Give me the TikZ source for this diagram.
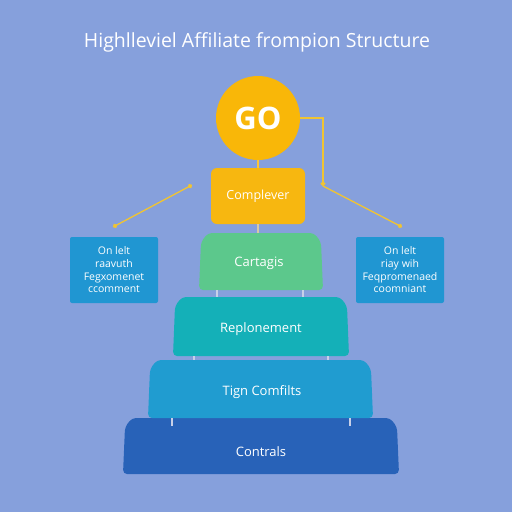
\documentclass[tikz,border=0pt]{standalone}
\usepackage{fontspec}
\setmainfont{Open Sans}
\usetikzlibrary{arrows.meta}
\definecolor{bg}{RGB}{134,160,220}
\definecolor{goc}{RGB}{249,183,8}
\definecolor{compc}{RGB}{247,183,16}
\definecolor{cartc}{RGB}{92,200,140}
\definecolor{replc}{RGB}{20,176,184}
\definecolor{tignc}{RGB}{32,156,208}
\definecolor{contc}{RGB}{40,98,184}
\definecolor{sidec}{RGB}{32,150,210}
\definecolor{linky}{RGB}{240,196,50}
\definecolor{tierline}{RGB}{200,208,232}
% #1 colour, #2 left x, #3 right x, #4 top y, #5 bottom y
\newcommand\tierfill[5]{\fill[#1, rounded corners=4pt] (#2,#5) -- (#2+2,#4+9) -- (#2+9,#4) -- (#3-9,#4) -- (#3-2,#4+9) -- (#3,#5) -- cycle;}
\tikzset{
  tiertext/.style={text=white, font=\fontsize{13}{15}\selectfont, inner sep=0pt},
  sidebox/.style={fill=sidec, rounded corners=2pt, minimum width=88pt, minimum height=66pt, text=white, align=center, font=\fontsize{10.5}{12.7}\selectfont, inner sep=0pt},
  ylink/.style={draw=linky, line width=1.3pt},
  tlink/.style={draw=tierline, line width=1.2pt},
  dottip/.style={-{Circle[length=4.5pt]}},
}
\begin{document}
\begin{tikzpicture}[x=1pt,y=-1pt]
\fill[bg] (0,0) rectangle (512,512);
\useasboundingbox (0,0) rectangle (512,512);

\node[text=white, font=\fontsize{19.5}{22}\selectfont, inner sep=0pt] (title) at (257,42) {Highlleviel Affiliate frompion Structure};

% tiers
\tierfill{contc}{123}{399}{418}{474}
\tierfill{tignc}{148}{373}{360}{418}
\tierfill{replc}{173}{349}{297}{356}
\tierfill{cartc}{199}{323}{233}{290}

\node[tiertext] (cart) at (259,263) {Cartagis};
\node[tiertext] (repl) at (261,329) {Replonement};
\node[tiertext] (tign) at (262,392) {Tign Comfilts};
\node[tiertext] (contr) at (261,452) {Contrals};

% tier connectors
\coordinate (a1) at (217,290); \coordinate (a2) at (217,297);
\coordinate (b1) at (303,290); \coordinate (b2) at (303,297);
\coordinate (c1) at (194,356); \coordinate (c2) at (194,360);
\coordinate (d1) at (328,356); \coordinate (d2) at (328,360);
\coordinate (e1) at (172,418); \coordinate (e2) at (172,426);
\coordinate (f1) at (350,418); \coordinate (f2) at (350,426);
\draw[tlink] (a1) -- (a2);
\draw[tlink] (b1) -- (b2);
\draw[tlink] (c1) -- (c2);
\draw[tlink] (d1) -- (d2);
\draw[tlink] (e1) -- (e2);
\draw[tlink] (f1) -- (f2);

% GO and Complever
\node[circle, fill=goc, minimum size=84pt, inner sep=0pt, text=white, font=\bfseries\fontsize{31}{31}\selectfont] (go) at (258,118) {GO};
\node[fill=compc, rounded corners=6pt, minimum width=94pt, minimum height=56pt, inner sep=0pt, text=white, font=\fontsize{12.5}{15}\selectfont] (comp) at (258,196) {Complever};
\coordinate (cartTop) at (258,233);
\draw[draw=goc!80!white, line width=1.2pt] (go.south) -- (comp.north);
\draw[draw=tierline!70!goc, line width=1.2pt] (comp.south) -- (cartTop);

% side boxes
\node[sidebox] (lbox) at (114,270) {On lelt\\raavuth\\Fegxomenet\\ccomment};
\node[sidebox] (rbox) at (400,270) {On lelt\\riay wih\\Feqpromenaed\\coomniant};

% yellow connectors
\coordinate (la) at (113,227);
\coordinate (lb) at (192,185);
\draw[ylink, {Circle[length=4.5pt]}-{Circle[length=4.5pt]}] (la) -- (lb);
\coordinate (rk) at (323,186);
\coordinate (rb) at (402,227);
\draw[ylink, dottip] (go.east) -| (rk);
\draw[ylink, dottip] (rk) -- (rb);
\end{tikzpicture}
\end{document}
